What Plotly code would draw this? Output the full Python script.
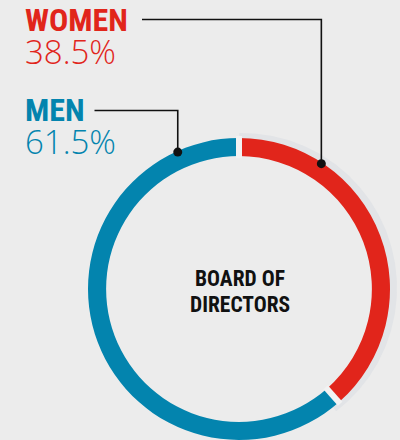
import numpy as np
import plotly.graph_objects as go

W, H = 400, 440

# --- data -------------------------------------------------------------
groups = ["WOMEN", "MEN"]
shares = [38.5, 61.5]
share_labels = ["38.5%", "61.5%"]
center_lines = ["BOARD OF", "DIRECTORS"]

# --- style ------------------------------------------------------------
RED = "#e1251b"
BLUE = "#0384ae"
BG = "#ececec"
GAP = "#f2f2f2"
HALO = "#e2e4e7"
INK = "#111111"
NARROW = "Liberation Sans Narrow, Roboto Condensed, DejaVu Sans Condensed, Liberation Sans, sans-serif"
LIGHT = "Open Sans, Roboto, Lato, sans-serif"

# ring geometry in pixels
CX, CY, R = 239, 289, 151
HOLE = 0.88
THICK = R * (1 - HOLE)

dom_x = [(CX - R) / W, (CX + R) / W]
dom_y = [max(0, (H - CY - R) / H), (H - CY + R) / H]

total = sum(shares)
fracs = [v / total for v in shares]
bounds = np.cumsum([0] + fracs)[:-1] * 360  # slice start angles, clockwise from top


def polar(theta_deg, r, cx=CX, cy=CY):
    t = np.radians(theta_deg)
    return cx + r * np.sin(t), cy - r * np.cos(t)


fig = go.Figure()

# soft halo behind the women's arc
th = np.linspace(-1, fracs[0] * 360 + 4, 160)
hx_o, hy_o = polar(th, R + 4, CX + 3, CY - 1)
hx_i, hy_i = polar(th[::-1], R - THICK + 4, CX + 3, CY - 1)
fig.add_trace(go.Scatter(
    x=np.concatenate([hx_o, hx_i]), y=np.concatenate([hy_o, hy_i]),
    fill="toself", fillcolor=HALO, line=dict(width=0), mode="lines",
    hoverinfo="skip", showlegend=False,
))

# the ring itself
fig.add_trace(go.Pie(
    values=shares, labels=groups, sort=False, direction="clockwise", rotation=0,
    hole=HOLE, textinfo="none", showlegend=False,
    marker=dict(colors=[RED, BLUE], line=dict(width=0)),
    domain=dict(x=dom_x, y=dom_y), hoverinfo="label+percent",
))

shapes = []
# thin separators between slices
for b in bounds:
    x0, y0 = polar(b, R - THICK - 2)
    x1, y1 = polar(b, R + 2)
    shapes.append(dict(type="line", xref="x", yref="y", x0=x0, y0=y0, x1=x1, y1=y1,
                       line=dict(color=GAP, width=6), layer="above"))

# leader lines from labels to the ring
leader_angles = [33.3, -24.1]          # where each leader touches the ring
leader_rows = [19.5, 110.5]            # height of the horizontal run
leader_starts = [142, 94.5]            # left end of the horizontal run
for ang, row, x_start in zip(leader_angles, leader_rows, leader_starts):
    dx, dy = polar(ang, R - 1)
    shapes.append(dict(type="path", xref="x", yref="y",
                       path=f"M {x_start},{row} L {dx},{row} L {dx},{dy}",
                       line=dict(color=INK, width=1.6), layer="above"))
    rd = 4.5
    shapes.append(dict(type="circle", xref="x", yref="y",
                       x0=dx - rd, x1=dx + rd, y0=dy - rd, y1=dy + rd,
                       fillcolor=INK, line=dict(width=0), layer="above"))

annotations = []
colors = [RED, BLUE]
block_rows = [37.5, 127.6]   # vertical middle of each name/value block
for name, val, col, yy in zip(groups, share_labels, colors, block_rows):
    text = (f"<span style='font-family:{NARROW};font-size:32px;font-weight:bold'>{name}</span>"
            f"<br><span style='font-family:{LIGHT};font-size:33px;font-weight:300'>{val}</span>")
    annotations.append(dict(x=23, y=yy, xref="x", yref="y", text=text,
                            showarrow=False, xanchor="left", yanchor="middle", align="left",
                            font=dict(family=LIGHT, size=25, color=col)))

for line, yy in zip(center_lines, [278.5, 304.2]):
    annotations.append(dict(x=CX + 0.5, y=yy, xref="x", yref="y", text=f"<b>{line}</b>",
                            showarrow=False, xanchor="center", yanchor="middle",
                            font=dict(family=NARROW, size=21.5, color=INK)))

fig.update_layout(
    width=W, height=H, margin=dict(l=0, r=0, t=0, b=0),
    paper_bgcolor=BG, plot_bgcolor="rgba(0,0,0,0)",
    xaxis=dict(range=[0, W], visible=False, fixedrange=True, domain=[0, 1]),
    yaxis=dict(range=[H, 0], visible=False, fixedrange=True, domain=[0, 1]),
    shapes=shapes, annotations=annotations, showlegend=False,
)

fig.write_html("out.html", config={"displayModeBar": False})
